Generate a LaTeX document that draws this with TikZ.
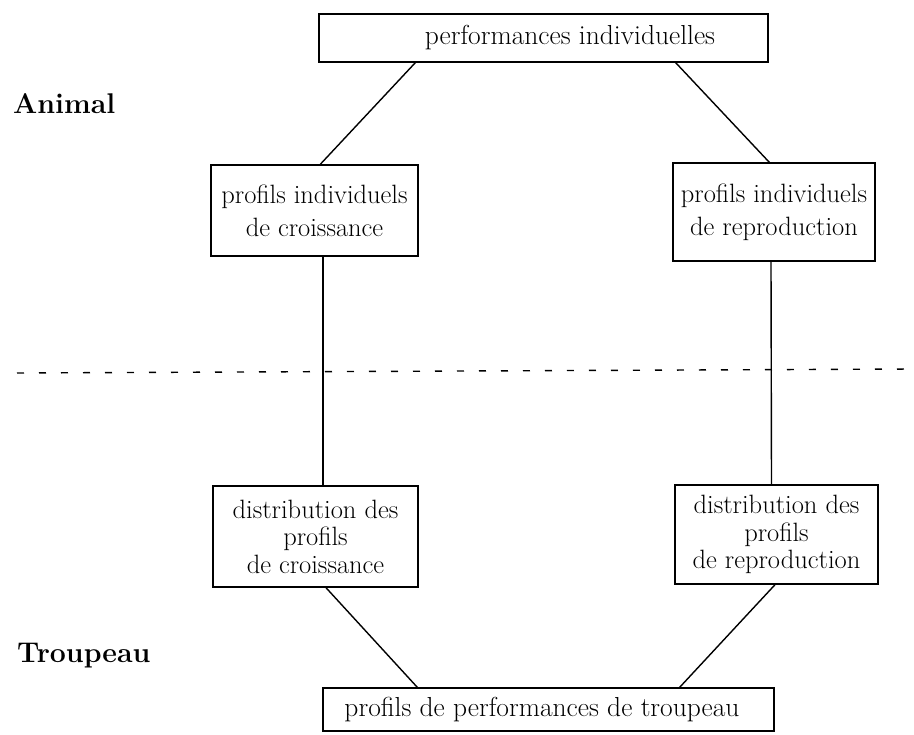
\documentclass[tikz,border=0pt]{standalone}
\usetikzlibrary{positioning}
\tikzset{
  box/.style={draw, line width=1.4pt, inner sep=0pt, align=center, font=\fontsize{26.5}{33}\selectfont},
  box1/.style={box, font=\fontsize{27.5}{30}\selectfont},
  box3/.style={box, font=\fontsize{26.5}{27.5}\selectfont},
  conn/.style={line width=1.4pt},
  sep/.style={line width=1.4pt, dash pattern=on 7pt off 15pt},
  level/.style={font=\fontsize{28.5}{30}\selectfont\bfseries, anchor=base west, inner sep=0pt}
}
\begin{document}
\begin{tikzpicture}[x=1pt,y=-1pt]
\useasboundingbox (0,0) rectangle (914,735);
% boxes
\node[box1, minimum width=449pt, minimum height=48pt] (top) at (543.5,38) {\hspace*{53pt}performances individuelles};
\node[box, minimum width=207pt, minimum height=91pt] (lu) at (314.5,210.5) {profils individuels\\de croissance};
\node[box, minimum width=202pt, minimum height=98pt] (ru) at (774,212) {profils individuels\\de reproduction};
\node[box3, minimum width=205pt, minimum height=101pt] (ll) at (315.5,536.5) {distribution des\\profils\\de croissance};
\node[box3, minimum width=203pt, minimum height=99pt] (rl) at (776.5,534.5) {distribution des\\profils\\de reproduction};
\node[box1, minimum width=451pt, minimum height=43pt] (bot) at (548.5,709.5) {profils de performances de troupeau\hspace*{13pt}};
% level labels
\node[level] (animal) at (13,114) {Animal};
\node[level] (troupeau) at (17,662) {Troupeau};
% separator
\coordinate (sepL) at (17,373);
\coordinate (sepR) at (914,369);
\draw[sep] (sepL) -- (sepR);
% connectors
\draw[conn] ([xshift=97pt]top.south west) -- ([xshift=110pt]lu.north west);
\draw[conn] ([xshift=-93pt]top.south east) -- ([xshift=97pt]ru.north west);
\draw[conn] ([xshift=8.5pt]lu.south) -- ([xshift=7.5pt]ll.north);
\draw[conn] ([xshift=-3pt]ru.south) -- ([xshift=-5pt]rl.north);
\draw[conn] ([xshift=10.5pt]ll.south) -- ([xshift=95pt]bot.north west);
\draw[conn] ([xshift=-1.5pt]rl.south) -- ([xshift=-95pt]bot.north east);
\end{tikzpicture}
\end{document}
